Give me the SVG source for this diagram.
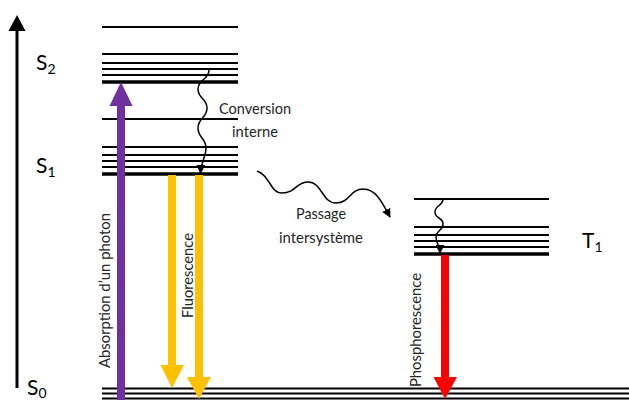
<svg xmlns="http://www.w3.org/2000/svg" width="629" height="400" viewBox="0 0 629 400">
  <defs>
    <style>
      .lv{stroke:#000;stroke-width:2;fill:none}
      .lvb{stroke:#000;stroke-width:3.5;fill:none}
      .lbl{font-family:Lato,"Liberation Sans",sans-serif;font-size:16px;fill:#262626}
      .st{font-family:Lato,"Liberation Sans",sans-serif;font-size:21px;fill:#000}
      .sub{font-size:14px}
      .wave{stroke:#000;stroke-width:1.5;fill:none;marker-end:url(#ah)}
    </style>
    <marker id="ah" viewBox="0 0 10 10" refX="9" refY="5" markerWidth="9" markerHeight="9" orient="auto" markerUnits="userSpaceOnUse">
      <path d="M0,0 L10,5 L0,10 z" fill="#000"/>
    </marker>
  </defs>
  <rect width="629" height="400" fill="#fff"/>

  <g id="axis">
    <line x1="17" y1="29" x2="17" y2="388" stroke="#000" stroke-width="3"/>
    <polygon points="17,15 25.5,31 8.5,31" fill="#000"/>
  </g>

  <g id="S2">
    <line class="lv" x1="102" y1="27" x2="238" y2="27"/>
    <line class="lv" x1="102" y1="54" x2="238" y2="54"/>
    <line class="lv" x1="102" y1="63" x2="238" y2="63"/>
    <line class="lv" x1="102" y1="69" x2="238" y2="69"/>
    <line class="lv" x1="102" y1="75" x2="238" y2="75"/>
    <line class="lvb" x1="102" y1="82" x2="238" y2="82"/>
    <text class="st" x="36" y="70">S<tspan class="sub" dy="4">2</tspan></text>
  </g>

  <g id="S1">
    <line class="lv" x1="102" y1="119" x2="238" y2="119"/>
    <line class="lv" x1="102" y1="147" x2="238" y2="147"/>
    <line class="lv" x1="102" y1="155" x2="238" y2="155"/>
    <line class="lv" x1="102" y1="161" x2="238" y2="161"/>
    <line class="lv" x1="102" y1="167" x2="238" y2="167"/>
    <line class="lvb" x1="102" y1="174" x2="238" y2="174"/>
    <text class="st" x="36" y="173">S<tspan class="sub" dy="4">1</tspan></text>
  </g>

  <g id="T1">
    <line class="lv" x1="414" y1="199" x2="549" y2="199"/>
    <line class="lv" x1="414" y1="227" x2="549" y2="227"/>
    <line class="lv" x1="414" y1="235" x2="549" y2="235"/>
    <line class="lv" x1="414" y1="241" x2="549" y2="241"/>
    <line class="lv" x1="414" y1="247" x2="549" y2="247"/>
    <line class="lvb" x1="414" y1="254" x2="549" y2="254"/>
    <text class="st" x="582" y="248">T<tspan class="sub" dy="4">1</tspan></text>
  </g>

  <g id="S0">
    <line class="lv" x1="102" y1="388.5" x2="629" y2="388.5"/>
    <line class="lv" x1="102" y1="393.5" x2="629" y2="393.5"/>
    <line class="lv" x1="102" y1="398.5" x2="629" y2="398.5"/>
    <text class="st" x="27" y="395">S<tspan class="sub" dy="3">0</tspan></text>
  </g>

  <g id="connectors">
    <g id="absorption">
      <polygon points="121,82 132.5,106 125,106 125,400 117,400 117,106 109.5,106" fill="#7030A0"/>
      <text class="lbl" transform="translate(110,290.5) rotate(-90)" text-anchor="middle" textLength="155" lengthAdjust="spacingAndGlyphs">Absorption d’un photon</text>
    </g>
    <g id="fluorescence">
      <polygon points="168,175 176,175 176,365 184,365 172,388 160.5,365 168,365" fill="#FFC000"/>
      <polygon points="195,175 203,175 203,377 211,377 199,399 187,377 195,377" fill="#FFC000"/>
      <text class="lbl" transform="translate(193,275.5) rotate(-90)" text-anchor="middle" textLength="85" lengthAdjust="spacingAndGlyphs">Fluorescence</text>
    </g>
    <g id="phosphorescence">
      <polygon points="441,255 449,255 449,377 457,377 445,399 433.5,377 441,377" fill="#FF0000"/>
      <text class="lbl" transform="translate(421,330) rotate(-90)" text-anchor="middle" textLength="114" lengthAdjust="spacingAndGlyphs">Phosphorescence</text>
    </g>
    <g id="conversion-interne">
      <path class="wave" d="M209,70 C209,80 198,79 198,89 C198,99 207,98 207,108 C207,118 198,118 198,128 C198,138 206,138 206,148 C206,158 201,161 200.5,173"/>
      <text class="lbl" x="255" y="114" text-anchor="middle" textLength="72" lengthAdjust="spacingAndGlyphs">Conversion</text>
      <text class="lbl" x="255" y="137" text-anchor="middle" textLength="46" lengthAdjust="spacingAndGlyphs">interne</text>
    </g>
    <g id="passage-intersysteme">
      <path class="wave" d="M257,171 C270,175 270,193 282,193 C296,193 296,182 308,182 C322,182 322,203 336,203 C350,203 350,189 363,189 C376,189 382,202 390,217"/>
      <text class="lbl" x="321" y="219" text-anchor="middle" textLength="50" lengthAdjust="spacingAndGlyphs">Passage</text>
      <text class="lbl" x="321" y="243" text-anchor="middle" textLength="84" lengthAdjust="spacingAndGlyphs">intersystème</text>
    </g>
    <g id="t1-relaxation">
      <path class="wave" d="M443,199 C443,206 435,205 435,212 C435,219 443,217 443,224 C443,231 436,230 436,237 C436,244 440,245 440,253"/>
    </g>
  </g>
</svg>
